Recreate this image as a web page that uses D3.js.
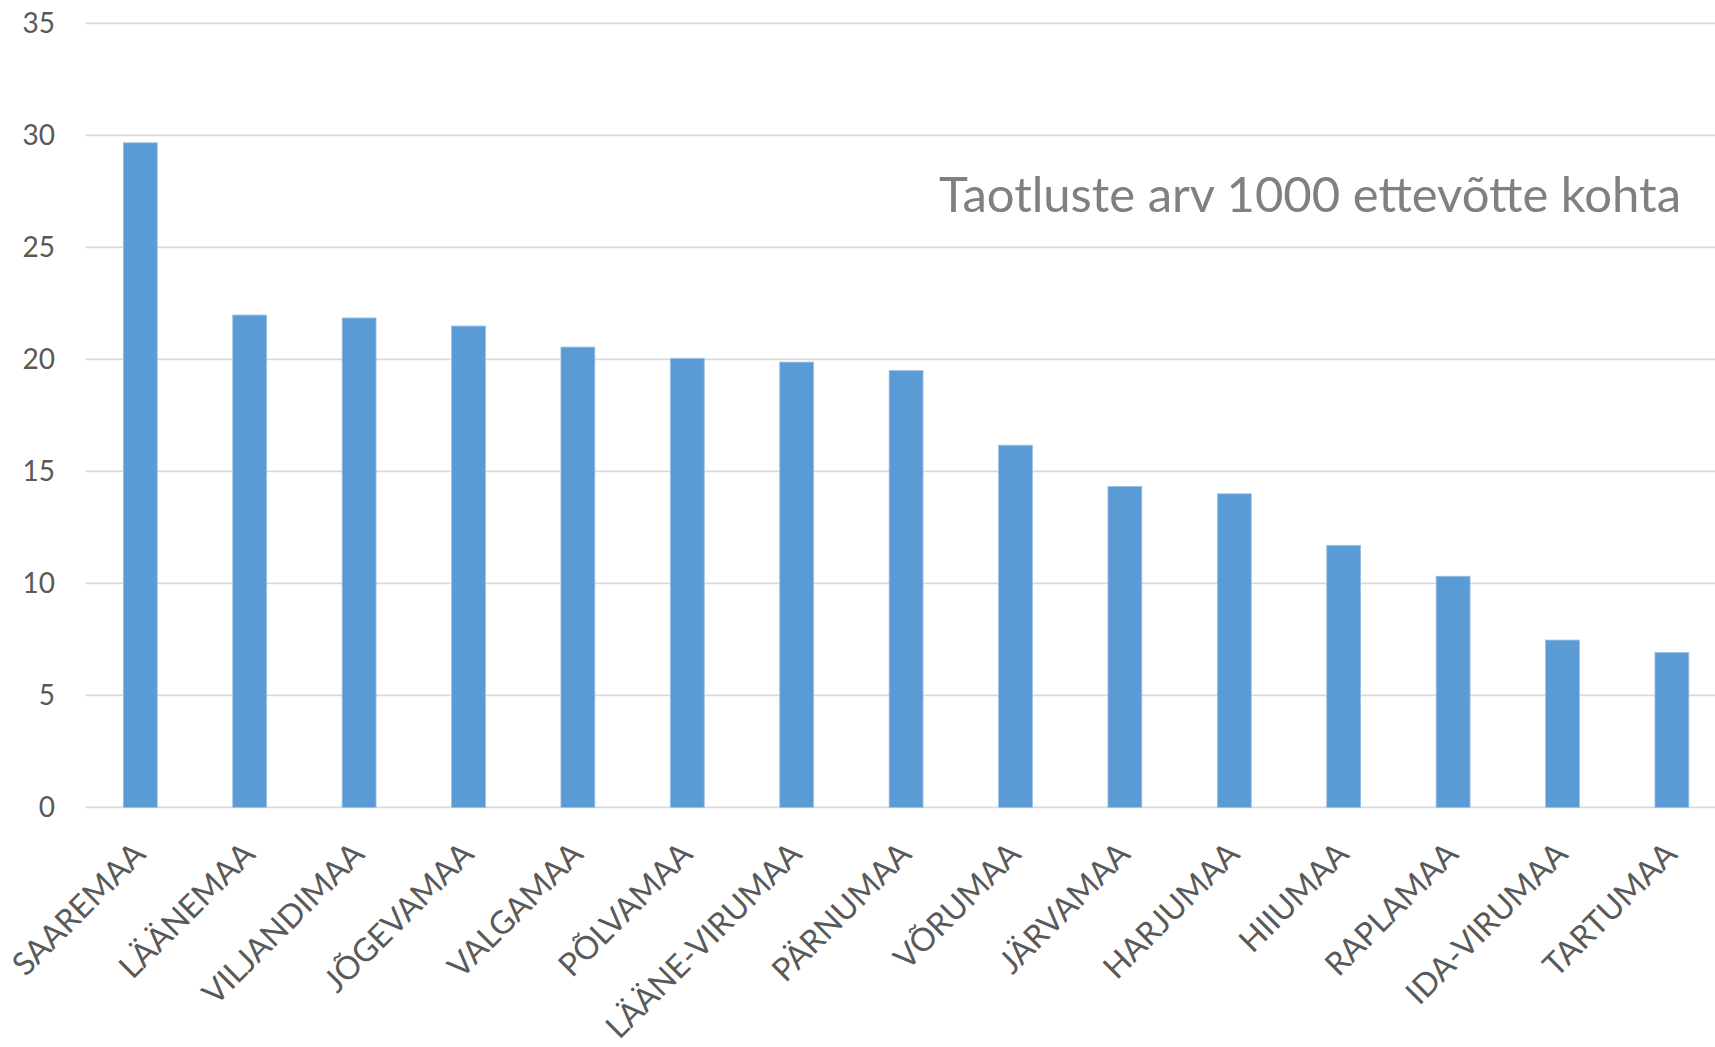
<!DOCTYPE html>
<html lang="et">
<head>
    <meta charset="UTF-8">
    <title>Taotluste arv 1000 ettevõtte kohta</title>
    <script src="https://d3js.org/d3.v7.min.js"></script>
    <style>
        body {
            margin: 0;
            background: #fff;
            overflow: hidden;
        }
        svg {
            display: block;
        }
        .tick-label {
            font-family: Lato, "Open Sans", sans-serif;
            font-size: 28px;
            fill: #595959;
        }
        .cat-label {
            font-family: Lato, "Open Sans", sans-serif;
            font-size: 32px;
            fill: #595959;
        }
        .title {
            font-family: Lato, "Open Sans", sans-serif;
            font-size: 49px;
            fill: #808080;
        }
    </style>
</head>
<body>
    <svg width="1715" height="1047"></svg>
    <script>
        // maakonnad
        const counties = [
            "SAAREMAA", "LÄÄNEMAA", "VILJANDIMAA", "JÕGEVAMAA", "VALGAMAA",
            "PÕLVAMAA", "LÄÄNE-VIRUMAA", "PÄRNUMAA", "VÕRUMAA", "JÄRVAMAA",
            "HARJUMAA", "HIIUMAA", "RAPLAMAA", "IDA-VIRUMAA", "TARTUMAA"
        ];
        // taotluste arv 1000 ettevõtte kohta
        const values = [
            29.67, 21.98, 21.85, 21.49, 20.55,
            20.05, 19.88, 19.50, 16.17, 14.33,
            14.00, 11.70, 10.32, 7.47, 6.92
        ];
        const yTicks = [0, 5, 10, 15, 20, 25, 30, 35];
        const titleText = "Taotluste arv 1000 ettevõtte kohta";

        const svg = d3.select("svg");
        const width = +svg.attr("width");

        // joonise ala (parem serv jääb pildist välja)
        const plot = { left: 85.6, right: 1726.6, top: 23.4, bottom: 807.4 };

        const x = d3.scaleBand()
            .domain(counties)
            .range([plot.left, plot.right])
            .paddingInner(0.69)
            .paddingOuter(0.345);

        const y = d3.scaleLinear()
            .domain([0, 35])
            .range([plot.bottom, plot.top]);

        // ruudustik
        svg.append("g")
            .selectAll("line")
            .data(yTicks)
            .enter().append("line")
            .attr("x1", plot.left)
            .attr("x2", width)
            .attr("y1", d => y(d))
            .attr("y2", d => y(d))
            .attr("stroke", "#d9d9d9")
            .attr("stroke-width", 1.6);

        // y-telje sildid
        svg.append("g")
            .selectAll("text")
            .data(yTicks)
            .enter().append("text")
            .attr("class", "tick-label")
            .attr("x", 55)
            .attr("y", d => y(d))
            .attr("dy", "0.36em")
            .attr("text-anchor", "end")
            .text(d => d);

        // tulbad
        svg.append("g")
            .selectAll("rect")
            .data(values)
            .enter().append("rect")
            .attr("x", (d, i) => x(counties[i]))
            .attr("y", d => y(d))
            .attr("width", x.bandwidth())
            .attr("height", d => y(0) - y(d))
            .attr("fill", "#5b9bd5")
            .attr("stroke", "#9cc2e5")
            .attr("stroke-width", 0.8);

        // x-telje sildid, 45 kraadi
        svg.append("g")
            .selectAll("text")
            .data(counties)
            .enter().append("text")
            .attr("class", "cat-label")
            .attr("text-anchor", "end")
            .attr("transform", d => {
                const cx = x(d) + x.bandwidth() / 2 + 7;
                return `translate(${cx},856) rotate(-45)`;
            })
            .text(d => d);

        // pealkiri
        svg.append("text")
            .attr("class", "title")
            .attr("x", 1681)
            .attr("y", 212)
            .attr("text-anchor", "end")
            .text(titleText);
    </script>
</body>
</html>
